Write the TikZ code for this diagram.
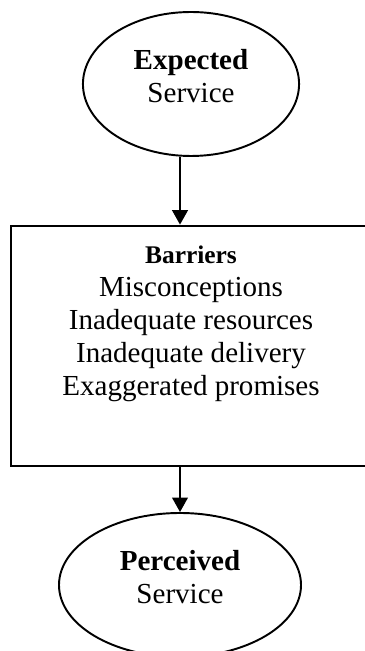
\documentclass[tikz,border=0pt]{standalone}
\usepackage{fontspec}
\setmainfont{Liberation Serif}
\usetikzlibrary{shapes.geometric,arrows.meta}

\begin{document}
\begin{tikzpicture}[x=0.4132pt,y=-0.4132pt,
  oval/.style={draw,ellipse,line width=0.8pt,inner sep=0pt,minimum height=59.5pt,
    align=center,font=\fontsize{12}{13.8}\selectfont,text depth=6.5pt},
  link/.style={line width=0.8pt,-{Triangle[length=6pt,width=6.5pt]}}]
\useasboundingbox (0,0) rectangle (364,651);

\node (expected) [oval,minimum width=89.3pt] at (191,84) {\textbf{Expected}\\Service};
\node (barriers) [draw,line width=1.1pt,minimum width=146.7pt,minimum height=99.2pt] at (188.5,346) {};
\node (list) [anchor=north,inner sep=0pt,align=center,font=\fontsize{12}{13.7}\selectfont] at (191,245)
  {{\fontsize{10.5}{12}\selectfont\textbf{Barriers}}\\Misconceptions\\Inadequate resources\\Inadequate delivery\\Exaggerated promises};
\node (perceived) [oval,minimum width=100pt] at (180,585) {\textbf{Perceived}\\Service};

% arrows drop straight down at the x of the lower oval
\draw[link] (expected.south -| perceived.north) -- (barriers.north -| perceived.north);
\draw[link] (barriers.south -| perceived.north) -- (perceived.north);
\end{tikzpicture}
\end{document}
